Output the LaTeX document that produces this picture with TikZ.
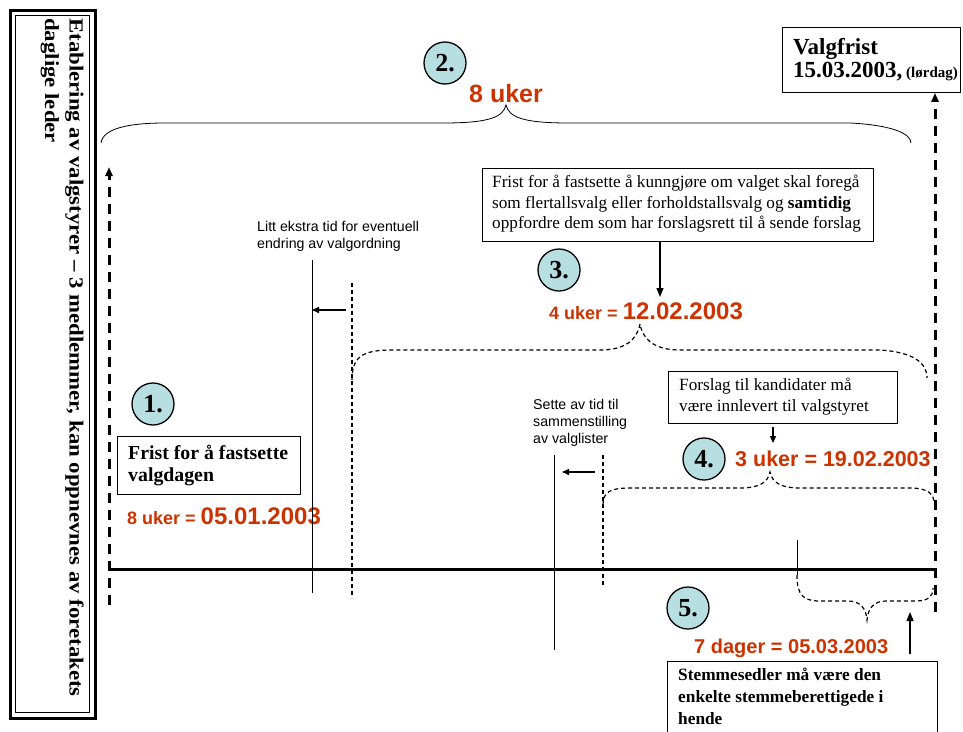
\documentclass[tikz,border=0pt]{standalone}
\usepackage{fontspec}
\usepackage{graphicx}
\setmainfont{Liberation Serif}
\newfontfamily\arialfont{Liberation Sans}
\usetikzlibrary{arrows.meta}
\definecolor{datered}{RGB}{204,51,0}
\definecolor{circfill}{RGB}{183,222,224}
\begin{document}
\begin{tikzpicture}[x=1pt,y=-1pt,
  numcirc/.style={circle,draw,line width=1.3pt,fill=circfill,minimum size=42pt,inner sep=0pt,
    font=\fontsize{26}{26}\selectfont\bfseries},
  textbox/.style={draw,line width=0.8pt,fill=white,anchor=north west,inner sep=0pt},
  boxtext/.style={anchor=north west,inner sep=0pt,align=left},
  note/.style={anchor=north west,inner sep=0pt,align=left,font=\arialfont\fontsize{14.2}{17}\selectfont},
  datelabel/.style={anchor=base west,inner sep=0pt,text=datered,font=\arialfont\bfseries},
  thinline/.style={line width=0.8pt},
  thindash/.style={line width=1.2pt,dash pattern=on 4pt off 3pt},
  thickdash/.style={line width=3pt,dash pattern=on 10pt off 7pt},
  tip/.style={-{Triangle[length=9pt,width=7pt]}},
  smalltip/.style={-{Triangle[length=7pt,width=6pt]}}
]
\clip (0,0) rectangle (963,731);
\fill[white] (0,0) rectangle (963,731);

% left framed box with vertical text
\draw[line width=3pt] (10,10) rectangle (95,718);
\draw[line width=0.8pt] (15.5,15.5) rectangle (89.5,712.5);
\node[rotate=-90,anchor=north west,inner sep=0pt,
  font=\fontsize{20}{24.5}\selectfont\bfseries] (leftbox) at (87,18)
  {\scalebox{1.14}[1]{\begin{tabular}{@{}l@{}}Etablering av valgstyrer – 3 medlemmer, kan oppnevnes av foretakets\\daglige leder\end{tabular}}};

% coordinates
\coordinate (Lbot) at (109,605);
\coordinate (Ltop) at (109,167);
\coordinate (Rbot) at (935,612);
\coordinate (mainL) at (109,569);
\coordinate (mainR) at (935,569);

% Valgfrist box
\node[textbox,minimum width=178pt,minimum height=65pt] (vbox) at (782,27) {};
\node[anchor=base west,inner sep=0pt,font=\fontsize{23}{23}\selectfont\bfseries] (vtext1) at (793,54) {Valgfrist};
\node[anchor=base west,inner sep=0pt,font=\fontsize{23}{23}\selectfont\bfseries] (vtext2) at (793,77)
  {15.03.2003,\fontsize{15}{15}\selectfont\ (lørdag)};

% top brace
\draw[thinline] (101,143) .. controls (103,128) and (130,123) .. (165,123) -- (443,123)
  .. controls (490,123) and (503,117) .. (506,105)
  .. controls (509,117) and (522,123) .. (569,123) -- (850,123)
  .. controls (890,125) and (911,133) .. (911,143);
\node[numcirc] (c2) at (445,63) {2.};
\node[datelabel,font=\arialfont\bfseries\fontsize{25}{25}\selectfont] (uker8) at (469,102) {8 uker};

% main thick dashed arrows and main line
\draw[thickdash,tip] (Lbot) -- (Ltop);
\draw[thickdash,tip] (Rbot) -- (vbox.south -| Rbot);
\draw[line width=3pt] (mainL) -- (mainR);

% step 1
\node[numcirc] (c1) at (153,404) {1.};
\node[textbox,minimum width=183pt,minimum height=58pt] (box1) at (117,436) {};
\node[boxtext,font=\fontsize{19.8}{22}\selectfont\bfseries] (box1t) at (128,445)
  {Frist for å fastsette\\valgdagen};
\node[datelabel] (date1) at (127,524)
  {\fontsize{18}{18}\selectfont 8 uker = \fontsize{24}{24}\selectfont 05.01.2003};

% extra time lines 1
\coordinate (v1top) at (312,260);
\coordinate (v1bot) at (312,593);
\coordinate (d1top) at (352,283);
\coordinate (d1bot) at (352,598);
\draw[thinline] (v1top) -- (v1bot);
\draw[thindash] (d1top) -- (d1bot);
\coordinate (a1s) at (346,310);
\coordinate (a1e) at (312,310);
\draw[line width=1.5pt,smalltip] (a1s) -- (a1e);
\node[note] (note1) at (257,221) {Litt ekstra tid for eventuell\\endring av valgordning};

% step 3
\node[textbox,minimum width=391pt,minimum height=73pt] (box3) at (482,168) {};
\node[boxtext,font=\fontsize{17.2}{20.5}\selectfont] (box3t) at (492,175)
  {Frist for å fastsette å kunngjøre om valget skal foregå\\
   som flertallsvalg eller forholdstallsvalg og \textbf{samtidig}\\
   oppfordre dem som har forslagsrett til å sende forslag};
\coordinate (a3e) at (660,297);
\draw[line width=1.2pt,tip] (box3.south -| a3e) -- (a3e);
\node[numcirc] (c3) at (559,270) {3.};
\node[datelabel] (date3) at (549,319)
  {\fontsize{18}{18}\selectfont 4 uker = \fontsize{24}{24}\selectfont 12.02.2003};
\draw[thindash] (352,380) .. controls (352,357) and (362,350) .. (392,350) -- (600,350)
  .. controls (625,350) and (637,340) .. (640,324)
  .. controls (643,340) and (655,350) .. (680,350) -- (880,350)
  .. controls (912,352) and (927,362) .. (927,378);

% extra time lines 2
\coordinate (v2top) at (554,455);
\coordinate (v2bot) at (554,650);
\coordinate (d2top) at (603,455);
\coordinate (d2bot) at (603,587);
\draw[thinline] (v2top) -- (v2bot);
\draw[thindash] (d2top) -- (d2bot);
\coordinate (a2s) at (595,472);
\coordinate (a2e) at (562,472);
\draw[line width=1.5pt,smalltip] (a2s) -- (a2e);
\node[note] (note2) at (533,399) {Sette av tid til\\sammenstilling\\av valglister};

% step 4
\node[textbox,minimum width=229pt,minimum height=52pt] (box4) at (668,371) {};
\node[boxtext,font=\fontsize{17.2}{21}\selectfont] (box4t) at (679,378)
  {Forslag til kandidater må\\være innlevert til valgstyret};
\coordinate (a4s) at (773,427);
\coordinate (a4e) at (773,443);
\draw[line width=1.2pt,smalltip] (a4s) -- (a4e);
\node[numcirc] (c4) at (704,459) {4.};
\node[datelabel,font=\arialfont\bfseries\fontsize{21.5}{21.5}\selectfont] (date4) at (735,466)
  {3 uker = 19.02.2003};
\draw[thindash] (603,505) .. controls (603,492) and (610,488) .. (630,488) -- (740,488)
  .. controls (760,488) and (768,482) .. (770,472)
  .. controls (772,482) and (780,488) .. (800,488) -- (910,488)
  .. controls (928,488) and (934,494) .. (934,503);

% step 5
\coordinate (v3top) at (797,540);
\coordinate (v3bot) at (797,575);
\draw[thinline] (v3top) -- (v3bot);
\draw[thindash] (797,575) .. controls (797,595) and (803,601) .. (820,601) -- (848,601)
  .. controls (860,601) and (866,608) .. (867,620)
  .. controls (868,608) and (874,601) .. (886,601) -- (915,601)
  .. controls (928,601) and (933,597) .. (933,588);
\node[numcirc] (c5) at (688,608) {5.};
\node[datelabel,font=\arialfont\bfseries\fontsize{20}{20}\selectfont] (date5) at (694,653)
  {7 dager = 05.03.2003};
\node[textbox,minimum width=270pt,minimum height=90pt] (box5) at (667,661) {};
\node[boxtext,font=\fontsize{17.3}{22}\selectfont\bfseries] (box5t) at (678,668)
  {Stemmesedler må være den\\enkelte stemmeberettigede i\\hende};
\coordinate (a5s) at (910,654);
\coordinate (a5e) at (910,612);
\draw[line width=1.5pt,tip] (a5s) -- (a5e);
\end{tikzpicture}
\end{document}
